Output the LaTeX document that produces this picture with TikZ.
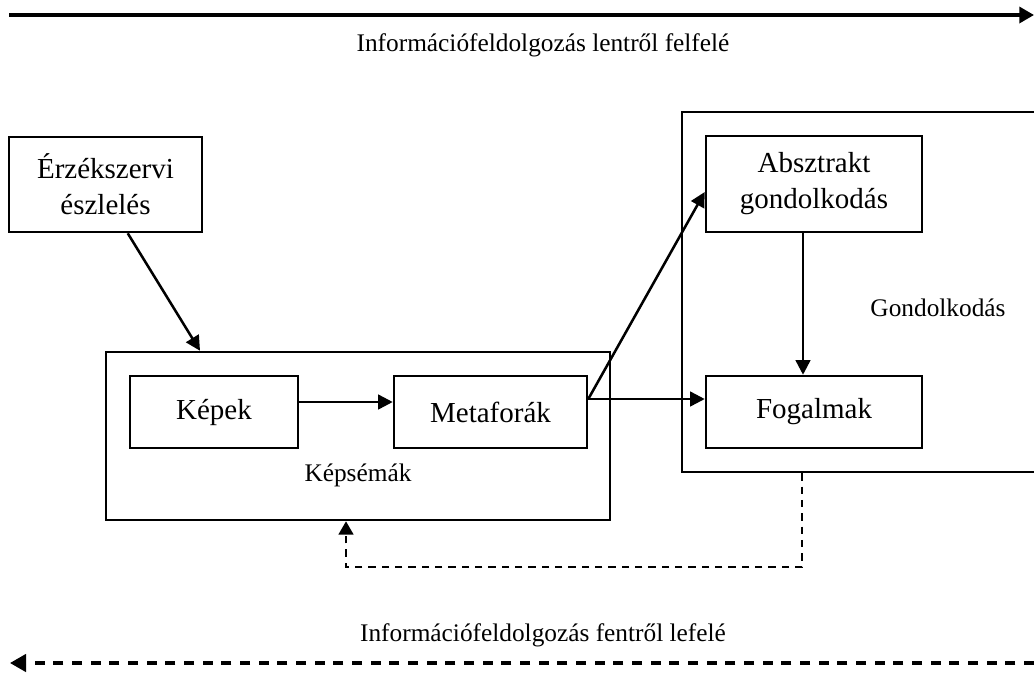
\documentclass[tikz,border=0pt]{standalone}
\usepackage{fontspec}
\setmainfont{Liberation Serif}
\usetikzlibrary{arrows.meta}
\begin{document}
\begin{tikzpicture}[x=0.75pt,y=-0.75pt,
  box/.style={draw,line width=1.9pt,inner sep=0pt,align=center,
    font=\fontsize{21.75}{27}\selectfont},
  lbl/.style={inner sep=0pt,font=\fontsize{19}{23}\selectfont},
  conn/.style={line width=1.9pt,-{Triangle[length=11pt,width=11pt]}},
  dconn/.style={line width=1.9pt,dash pattern=on 5.5pt off 4.5pt,-{Triangle[length=10pt,width=11pt]}},
  bigarrow/.style={line width=2.5pt,-{Triangle[length=11pt,width=12pt]}},
  bigdarrow/.style={line width=2.5pt,dash pattern=on 7.5pt off 6.5pt,-{Triangle[length=12pt,width=13pt]}}]
\useasboundingbox (0,0) rectangle (1034,672);
% top and bottom arrows
\coordinate (tl) at (9,15);
\coordinate (tr) at (1034,15);
\draw[bigarrow] (tl) -- (tr);
\node[lbl] (toptext) at (543,45) {Információfeldolgozás lentről felfelé};
\coordinate (br) at (1034,663);
\coordinate (bl) at (10,663);
\draw[bigdarrow] (br) -- (bl);
\node[lbl] (bottext) at (543,635) {Információfeldolgozás fentről lefelé};
% boxes
\node[box,minimum width=144.75pt,minimum height=71.25pt] (erz) at (105.5,184.5) {Érzékszervi\\észlelés};
\node[box,minimum width=378pt,minimum height=126pt] (kepsema) at (358,436) {};
\node[lbl] (kepsemalbl) at (358,475) {Képsémák};
\node[box,minimum width=126pt,minimum height=54pt] (kepek) at (214,412) {Képek};
\node[box,minimum width=144.75pt,minimum height=54pt] (meta) at (490.5,412) {Metaforák};
\node[box,minimum width=271.5pt,minimum height=270pt] (gond) at (863,292) {};
\node[lbl] (gondlbl) at (938,308) {Gondolkodás};
\node[box,minimum width=162pt,minimum height=72pt] (abs) at (814,184) {Absztrakt\\gondolkodás};
\node[box,minimum width=162pt,minimum height=54pt] (fog) at (814,412) {Fogalmak};
% connectors
\draw[conn] (erz.south west) ++(120,0) coordinate (e1) -- (kepsema.north west -| 200,0);
\draw[conn] (kepek.east |- 0,402) -- (meta.west |- 0,402);
\draw[conn] (meta.east |- 0,399) coordinate (m1) -- (abs.west |- 0,192);
\draw[conn] (m1) -- (fog.west |- 0,399);
\draw[conn] (abs.south -| 803,0) -- (fog.north -| 803,0);
\coordinate (d1) at (802,567);
\coordinate (d2) at (346,567);
\draw[dconn] (gond.south -| 802,0) -- (d1) -- (d2) -- (kepsema.south -| 346,0);
\end{tikzpicture}
\end{document}
